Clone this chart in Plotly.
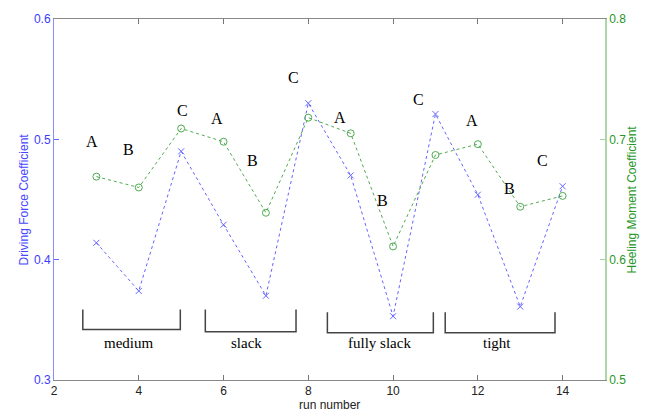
import plotly.graph_objects as go

# ---- data ----
run_number = [3, 4, 5, 6, 7, 8, 9, 10, 11, 12, 13, 14]
driving_force = [0.414, 0.374, 0.490, 0.429, 0.370, 0.530, 0.470, 0.353, 0.521, 0.454, 0.361, 0.461]
heeling_moment = [0.669, 0.660, 0.709, 0.698, 0.639, 0.718, 0.705, 0.611, 0.687, 0.696, 0.644, 0.653]

letter_text = ["A", "B", "C", "A", "B", "C", "A", "B", "C", "A", "B", "C"]
letter_x = [2.89, 3.76, 5.02, 5.85, 6.69, 7.65, 8.75, 9.74, 10.60, 11.87, 12.75, 13.52]
letter_y = [0.498, 0.4915, 0.524, 0.5176, 0.482, 0.551, 0.518, 0.449, 0.533, 0.5156, 0.459, 0.482]

group_names = ["medium", "slack", "fully slack", "tight"]
group_start = [2.68, 5.57, 8.45, 11.23]
group_end = [4.98, 7.71, 10.95, 13.82]
group_top = [0.3585, 0.3585, 0.3564, 0.3564]
group_bottom = [0.342, 0.340, 0.3393, 0.3393]
group_label_x = [3.76, 6.54, 9.69, 12.46]
group_label_y = 0.331

x_ticks = [2, 4, 6, 8, 10, 12, 14]
left_ticks = [0.3, 0.4, 0.5, 0.6]
right_ticks = [0.5, 0.6, 0.7, 0.8]

BLUE = "rgb(100,100,255)"
GREEN = "rgb(80,170,80)"

fig = go.Figure()
fig.add_trace(go.Scatter(
    x=run_number, y=driving_force, mode="lines+markers",
    line=dict(color=BLUE, width=1, dash="dot"),
    marker=dict(symbol="x-thin", size=6, line=dict(color=BLUE, width=1)),
    yaxis="y", showlegend=False, hoverinfo="skip"))
fig.add_trace(go.Scatter(
    x=run_number, y=heeling_moment, mode="lines+markers",
    line=dict(color=GREEN, width=1, dash="dot"),
    marker=dict(symbol="circle-open", size=7, color=GREEN, line=dict(width=1)),
    yaxis="y2", showlegend=False, hoverinfo="skip"))

annotations = []
for t, x, y in zip(letter_text, letter_x, letter_y):
    annotations.append(dict(x=x, y=y, xref="x", yref="y", text=t, showarrow=False,
                            font=dict(family="Liberation Serif", size=16, color="black")))
for name, lx in zip(group_names, group_label_x):
    annotations.append(dict(x=lx, y=group_label_y, xref="x", yref="y", text=name, showarrow=False,
                            font=dict(family="Liberation Serif", size=15, color="black")))
# axis titles
annotations.append(dict(x=0, y=0.5, xref="paper", yref="paper", xanchor="center", yanchor="middle",
                        xshift=-31, text="Driving Force Coefficient",
                        textangle=-90, showarrow=False,
                        font=dict(family="Liberation Sans", size=12, color="rgb(70,70,255)")))
annotations.append(dict(x=1, y=0.5, xref="paper", yref="paper", xanchor="center", yanchor="middle",
                        xshift=26, text="Heeling Moment Coefficient",
                        textangle=-90, showarrow=False,
                        font=dict(family="Liberation Sans", size=12, color="rgb(40,150,40)")))
annotations.append(dict(x=0.5, y=0, xref="paper", yref="paper", yanchor="top", yshift=-16,
                        text="run number", showarrow=False,
                        font=dict(family="Liberation Sans", size=12, color="#222")))

shapes = []
for s, e, top, bot in zip(group_start, group_end, group_top, group_bottom):
    shapes.append(dict(type="path", xref="x", yref="y",
                       path=f"M {s},{top} L {s},{bot} L {e},{bot} L {e},{top}",
                       line=dict(color="#444", width=1.5)))

fig.update_layout(
    width=649, height=410,
    margin=dict(l=54, r=44, t=19, b=27),
    plot_bgcolor="white", paper_bgcolor="white",
    font=dict(family="Liberation Sans", size=12, color="#222"),
    xaxis=dict(range=[2, 15], tickvals=x_ticks, ticks="inside", ticklen=5,
               tickcolor="#777", linecolor="#888", linewidth=1, mirror="ticks",
               showgrid=False, zeroline=False, tickfont=dict(size=12, color="#222")),
    yaxis=dict(range=[0.3, 0.6], tickvals=left_ticks, tickformat=".1f", ticks="inside", ticklen=5,
               tickcolor=BLUE, linecolor="rgb(140,140,255)", linewidth=1,
               showgrid=False, zeroline=False, tickfont=dict(size=12, color="rgb(60,60,255)")),
    yaxis2=dict(range=[0.5, 0.8], tickvals=right_ticks, tickformat=".1f", overlaying="y", side="right",
                ticks="inside", ticklen=5, tickcolor="rgb(160,210,160)",
                linecolor="rgb(170,215,170)", linewidth=1.5,
                showgrid=False, zeroline=False, tickfont=dict(size=12, color="rgb(40,150,40)")),
    annotations=annotations, shapes=shapes,
)

fig.write_html("out.html")
